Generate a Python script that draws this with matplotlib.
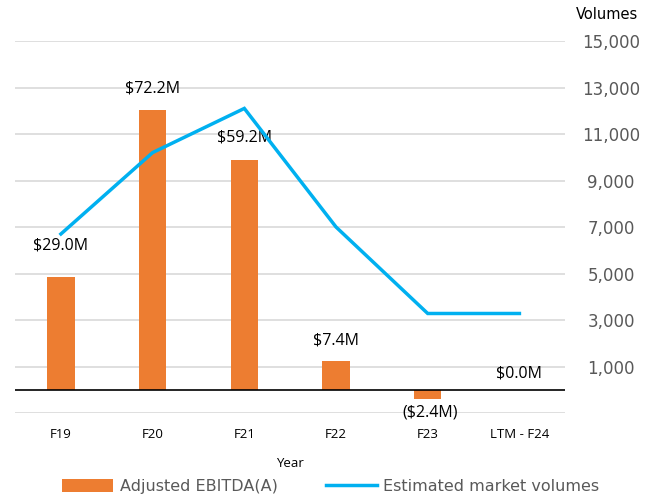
import matplotlib.pyplot as plt
from matplotlib.lines import Line2D
from matplotlib.patches import Patch

# data
years = ['F19', 'F20', 'F21', 'F22', 'F23', 'LTM - F24']
ebitda = [29.0, 72.2, 59.2, 7.4, -2.4, 0.0]          # $M
ebitda_labels = ['$29.0M', '$72.2M', '$59.2M', '$7.4M', '($2.4M)', '$0.0M']
volumes = [6700, 10200, 12100, 7000, 3280, 3280]
vol_ticks = [1000, 3000, 5000, 7000, 9000, 11000, 13000, 15000]

orange = '#ED7D31'
blue = '#00B0F0'
grey = '#595959'

fig = plt.figure(figsize=(6.55, 5.0), dpi=100)
ax = fig.add_axes([0.023, 0.174, 0.840, 0.744])
ax2 = ax.twinx()   # volume axis: gridlines + labels (behind)
ax3 = ax.twinx()   # volume line on top of bars

x = list(range(len(years)))

# secondary axis (volumes) carries the gridlines
ax2.set_ylim(-1000, 15000)
ax2.set_yticks([-1000] + vol_ticks)
ax2.set_yticklabels([''] + ['{:,}'.format(v) for v in vol_ticks])
ax2.grid(axis='y', color='#D9D9D9', linewidth=1.2)
ax2.tick_params(axis='y', length=0, pad=33, labelsize=12, labelcolor=grey)
for lab in ax2.get_yticklabels():
    lab.set_horizontalalignment('center')
ax2.text(1.075, 1.07, 'Volumes', transform=ax2.transAxes, ha='center', va='center',
         fontsize=10.5, color='black')

ax3.set_ylim(-1000, 15000)
ax3.set_yticks([])
ax3.plot(x, volumes, color=blue, linewidth=2.5, solid_joinstyle='miter')

# primary axis (EBITDA)
ax.set_ylim(-6, 90)
ax.set_xlim(-0.5, len(years) - 0.5)
ax.bar(x, ebitda, width=0.3, color=orange, zorder=2)
ax.axhline(0, color='black', linewidth=1.2, zorder=4)
ax.set_yticks([])

offsets = [(0, 17), (0, 10), (0, 11), (0, 9), (2, -4), (0, 6)]
for xi, v, lab, off in zip(x, ebitda, ebitda_labels, offsets):
    ax.annotate(lab, (xi, v), xytext=off, textcoords='offset points',
                ha='center', va='bottom' if v >= 0 else 'top',
                fontsize=11.5, family='Open Sans', color='black')

ax.set_xticks(x)
ax.set_xticklabels(years, fontsize=9.5, family='Open Sans')
ax.tick_params(axis='x', length=0, pad=11)
ax.set_xlabel('Year', fontsize=9.5, family='Open Sans', labelpad=11)

for a in (ax, ax2, ax3):
    for s in a.spines.values():
        s.set_visible(False)

ax2.set_zorder(0)
ax.set_zorder(1)
ax3.set_zorder(2)
ax.patch.set_visible(False)
ax3.patch.set_visible(False)

handles = [Patch(facecolor=orange, label='Adjusted EBITDA(A)'),
           Line2D([0], [0], color=blue, linewidth=2.5, label='Estimated market volumes')]
leg = fig.legend(handles=handles, loc='center', bbox_to_anchor=(0.505, 0.027), ncol=2,
                 frameon=False, fontsize=11.5, handlelength=3.2, handleheight=0.9,
                 columnspacing=3.0, handletextpad=0.4)
for t in leg.get_texts():
    t.set_color(grey)

fig.savefig('out.png', dpi=100)
